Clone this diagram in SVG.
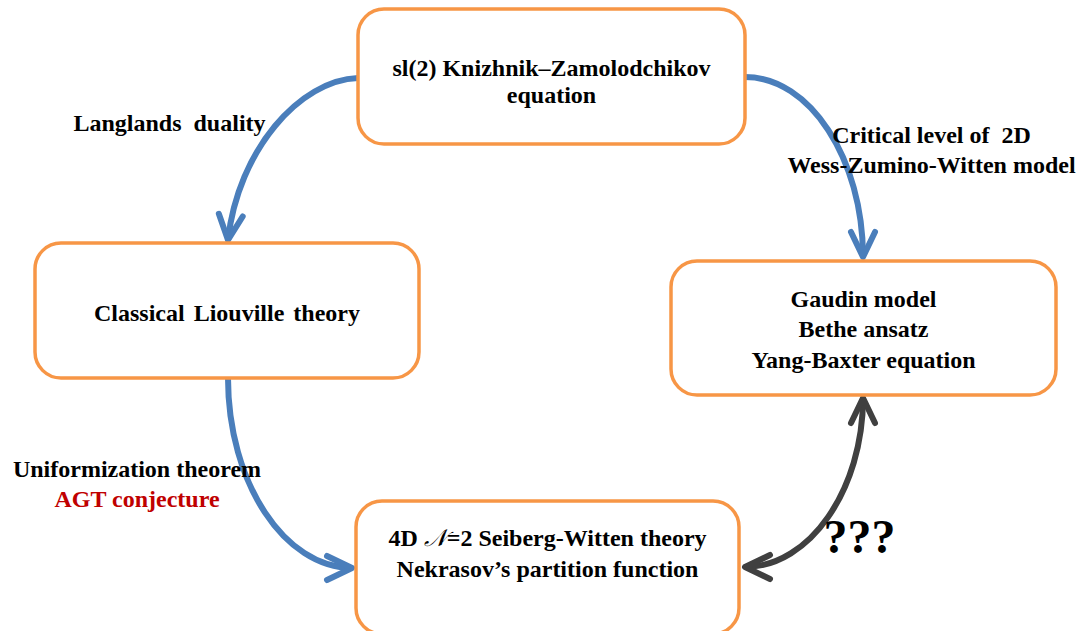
<svg xmlns="http://www.w3.org/2000/svg" width="1083" height="631" viewBox="0 0 1083 631">
<defs>
<style>
.box{fill:#FFFFFF;stroke:#F79646;stroke-width:3.5}
.t{font-family:"Liberation Serif","Times New Roman",serif;font-weight:bold;font-size:24px;fill:#000000;text-anchor:middle}
.big{font-size:48px}
.red{fill:#C00000}
.blue{fill:none;stroke:#4A7EBB;stroke-width:6}
.dark{fill:none;stroke:#404040;stroke-width:6}
</style>
<marker id="ab" markerUnits="userSpaceOnUse" viewBox="-34 -20 40 40" markerWidth="40" markerHeight="40" refX="0" refY="0" orient="auto">
<path d="M -25 -12 L 0 0 L -25 12" fill="none" stroke="#4A7EBB" stroke-width="6" stroke-linecap="round" stroke-linejoin="round"/>
</marker>
<marker id="ad" markerUnits="userSpaceOnUse" viewBox="-34 -20 40 40" markerWidth="40" markerHeight="40" refX="0" refY="0" orient="auto-start-reverse">
<path d="M -25 -12 L 0 0 L -25 12" fill="none" stroke="#404040" stroke-width="6" stroke-linecap="round" stroke-linejoin="round"/>
</marker>
</defs>
<rect width="1083" height="631" fill="#FFFFFF"/>
<g id="connectors">
<path class="blue" d="M 358 78 C 300 80 238 150 228 240" marker-end="url(#ab)"/>
<path class="blue" d="M 745 77 C 810 77 863 159 863 257" marker-end="url(#ab)"/>
<path class="blue" d="M 228 378 C 228 483 285 568 352 568" marker-end="url(#ab)"/>
<path class="dark" d="M 745 567 C 810 567 863 489 863 398" marker-start="url(#ad)" marker-end="url(#ad)"/>
</g>
<g id="node-kz">
<rect class="box" x="358" y="9" width="387" height="135" rx="26"/>
<text class="t" x="551.5" y="76">sl(2) Knizhnik–Zamolodchikov</text>
<text class="t" x="551.5" y="103">equation</text>
</g>
<g id="node-liouville">
<rect class="box" x="35" y="243" width="384" height="135" rx="26"/>
<text class="t" x="227" y="321" word-spacing="3">Classical Liouville theory</text>
</g>
<g id="node-gaudin">
<rect class="box" x="671" y="261" width="385" height="134" rx="26"/>
<text class="t" x="863.5" y="307">Gaudin model</text>
<text class="t" x="863.5" y="337">Bethe ansatz</text>
<text class="t" x="863.5" y="368">Yang-Baxter equation</text>
</g>
<g id="node-sw">
<rect class="box" x="356" y="501" width="383" height="133" rx="26"/>
<text class="t" x="547.5" y="546">4D <tspan font-weight="normal" font-family="'DejaVu Serif','DejaVu Sans',serif" font-style="italic">𝒩</tspan>=2 Seiberg-Witten theory</text>
<text class="t" x="547.5" y="577">Nekrasov’s partition function</text>
</g>
<g id="labels">
<text class="t" x="169.5" y="131" xml:space="preserve">Langlands  duality</text>
<text class="t" x="931.5" y="143" xml:space="preserve">Critical level of  2D</text>
<text class="t" x="931.5" y="173">Wess-Zumino-Witten model</text>
<text class="t" x="137" y="477">Uniformization theorem</text>
<text class="t red" x="137" y="507">AGT conjecture</text>
<text class="t big" x="859.5" y="553">???</text>
</g>
</svg>
